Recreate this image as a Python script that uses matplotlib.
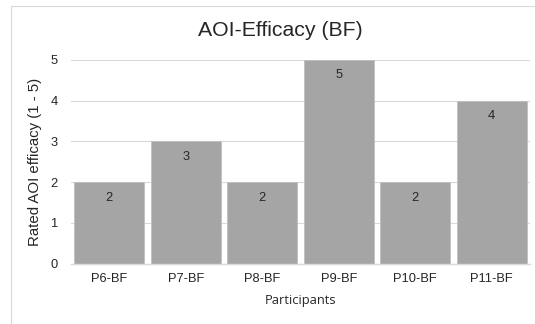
import matplotlib.pyplot as plt
import numpy as np
from matplotlib.patches import Rectangle

participants = ["P6-BF", "P7-BF", "P8-BF", "P9-BF", "P10-BF", "P11-BF"]
ratings = [2, 3, 2, 5, 2, 4]

W, H = 535, 324
fig = plt.figure(figsize=(W / 100, H / 100), dpi=100)
ax = fig.add_axes([71 / W, 1 - 263.5 / H, (530 - 71) / W, (263.5 - 60) / H])

x = np.arange(len(participants))
ax.bar(x, ratings, width=0.91, color="#A5A5A5", edgecolor="#C0C0C0", linewidth=0.6, zorder=2)

for i, v in zip(x, ratings):
    ax.text(i, v - 0.38, "%d" % v, ha="center", va="center", fontsize=9.3,
            family="Liberation Sans", color="#262626", zorder=3)

ax.set_xlim(-0.5, len(participants) - 0.5)
ax.set_ylim(0, 5)
ax.set_yticks(range(6))
ax.set_xticks(x)
ax.set_xticklabels(participants, family="Liberation Sans", fontsize=9.3, color="#262626")
for lbl in ax.get_yticklabels():
    lbl.set_family("Liberation Sans")
    lbl.set_fontsize(9.3)
    lbl.set_color("#262626")
ax.tick_params(length=0, pad=7)
ax.tick_params(axis="y", pad=9.5)
ax.yaxis.grid(True, color="#D9D9D9", linewidth=0.8, zorder=0)
ax.set_axisbelow(True)
for s in ["top", "right", "left"]:
    ax.spines[s].set_visible(False)
ax.spines["bottom"].set_color("#D9D9D9")
ax.spines["bottom"].set_linewidth(1.0)

ax.set_ylabel("Rated AOI efficacy (1 - 5)", family="Liberation Sans", fontsize=10.8,
              color="#262626", labelpad=6)
ax.set_xlabel("Participants", family="Open Sans", fontsize=9.3, color="#262626", labelpad=6)
fig.text(280 / W, 1 - 30 / H, "AOI-Efficacy (BF)", ha="center", va="center",
         family="Liberation Sans", fontsize=15.3, color="#262626")

fig.patches.append(Rectangle((11 / W, -0.05), 1.2, 1 - 6 / H + 0.05, transform=fig.transFigure,
                             fill=False, edgecolor="#D9D9D9", linewidth=0.8))

fig.savefig("out.png", dpi=100)
